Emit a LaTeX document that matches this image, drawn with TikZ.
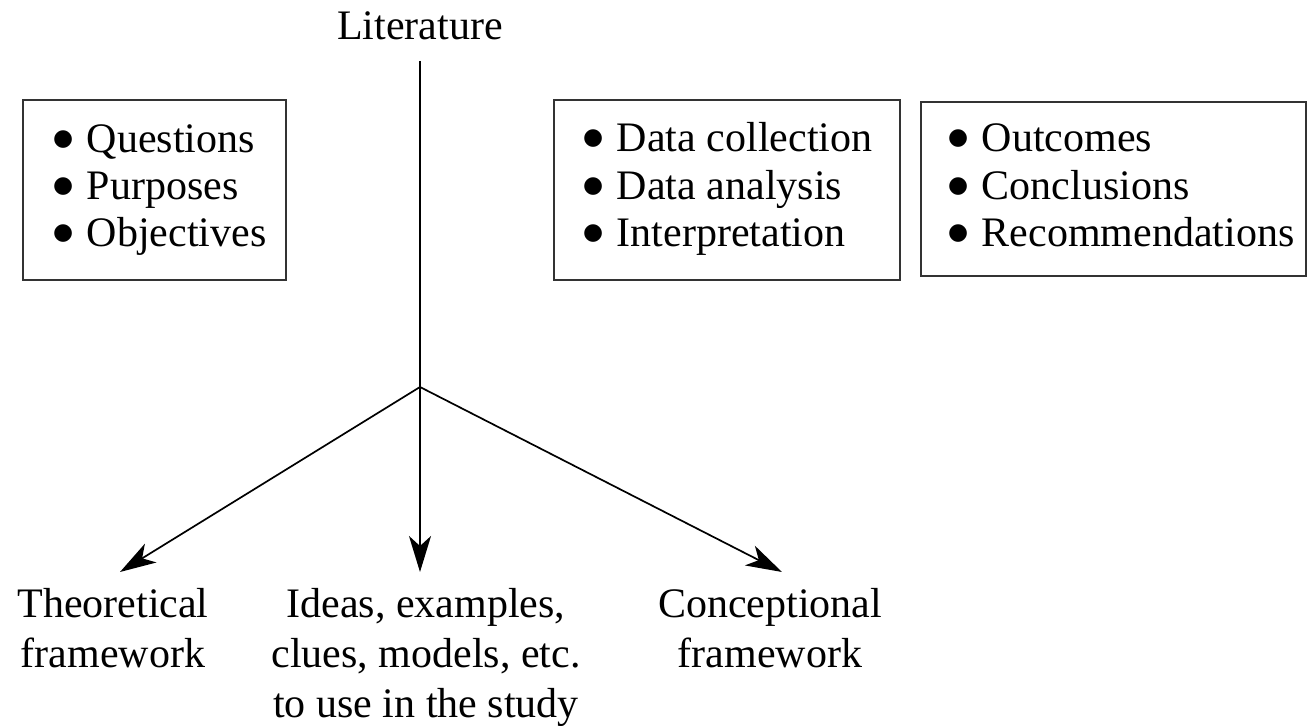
\documentclass[tikz,border=0pt]{standalone}
\usepackage{fontspec}
\setmainfont{Liberation Serif}
\newfontfamily\symfnt{DejaVu Sans}
\usetikzlibrary{arrows.meta}
\newcommand{\bigbul}{\raisebox{3.5pt}{\symfnt\fontsize{11.5}{11.5}\selectfont ●}\hspace{6.9pt}}
\begin{document}
\begin{tikzpicture}[x=0.5pt,y=-0.5pt,
  box/.style={draw=black!80, line width=0.9pt, inner sep=0pt},
  item/.style={anchor=base west, inner sep=0pt, font=\fontsize{21}{24}\selectfont},
  lbl/.style={anchor=north, align=center, inner xsep=0pt, inner ysep=8pt, font=\fontsize{21}{25}\selectfont},
  conn/.style={line width=0.85pt},
  arr/.style={conn, -{Stealth[length=18pt,width=11pt,inset=5pt]}}]
\useasboundingbox (0,0) rectangle (1308,726);

% title
\node[anchor=base, inner xsep=0pt, inner ysep=10pt, font=\fontsize{21}{24}\selectfont] (lit) at (420,40) {Literature};
\coordinate (j) at (420,387);

% boxes
\node[box, minimum width=131.5pt, minimum height=90pt] (b1) at (154.5,190) {};
\node[box, minimum width=173pt, minimum height=90pt] (b2) at (727,190) {};
\node[box, minimum width=192.5pt, minimum height=87pt] (b3) at (1113.5,189) {};

\node[item] (q)  at (52.7,153) {\bigbul Questions};
\node[item] (p)  at (52.7,200) {\bigbul Purposes};
\node[item] (o)  at (52.7,247) {\bigbul Objectives};

\node[item] (dc) at (582.7,152) {\bigbul Data collection};
\node[item] (da) at (582.7,200) {\bigbul Data analysis};
\node[item] (in) at (582.7,247) {\bigbul Interpretation};

\node[item] (oc) at (947.7,152) {\bigbul Outcomes};
\node[item] (cc) at (947.7,200) {\bigbul Conclusions};
\node[item] (rc) at (947.7,247) {\bigbul Recommendations};

% bottom labels
\node[lbl] (theo) at (113,572) {Theoretical\\framework};
\node[lbl] (ideas) at (426,572) {Ideas, examples,\\clues, models, etc.\\to use in the study};
\node[lbl] (concept) at (770,572) {Conceptional\\framework};

% connectors
\draw[conn] (lit.south) -- (j);
\draw[arr] (j) -- ([xshift=3.5pt]theo.north);
\draw[arr] (j) -- (j |- ideas.north);
\draw[arr] (j) -- ([xshift=6pt]concept.north);
\end{tikzpicture}
\end{document}
